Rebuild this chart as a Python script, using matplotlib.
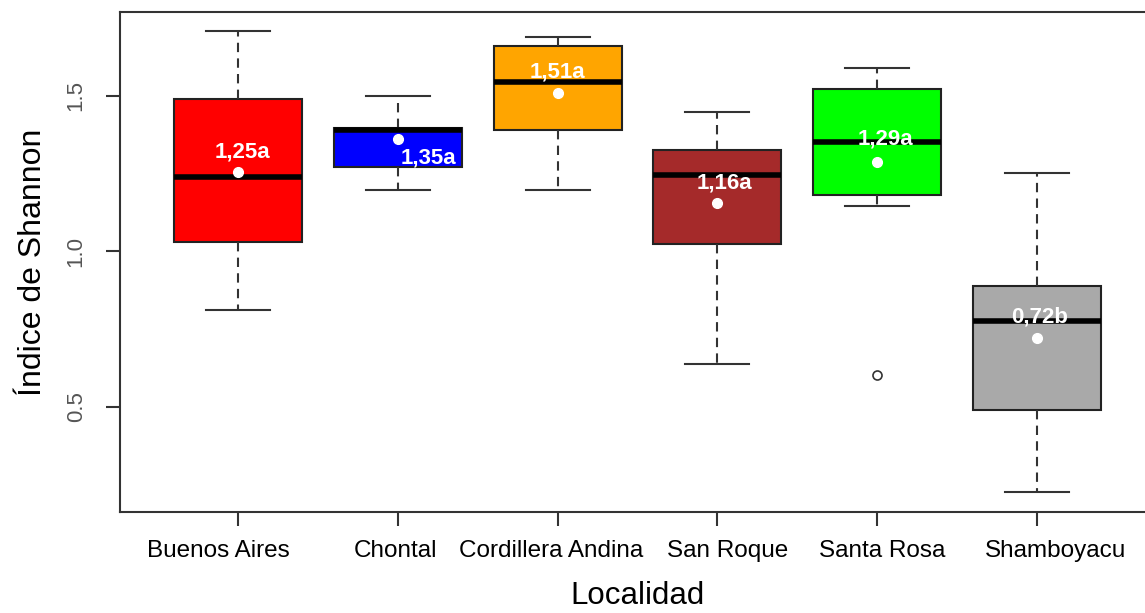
import numpy as np
import matplotlib.pyplot as plt
from matplotlib.transforms import ScaledTranslation

plt.rcParams['font.family'] = ['Liberation Sans', 'DejaVu Sans']

localidades = ["Buenos Aires", "Chontal", "Cordillera Andina", "San Roque", "Santa Rosa", "Shamboyacu"]
whislo = [0.812, 1.196, 1.196, 0.638, 1.147, 0.227]
q1 = [1.031, 1.270, 1.391, 1.025, 1.181, 0.491]
med = [1.239, 1.391, 1.545, 1.247, 1.353, 0.775]
q3 = [1.490, 1.397, 1.662, 1.325, 1.523, 0.889]
whishi = [1.709, 1.501, 1.690, 1.449, 1.591, 1.251]
outliers = [[], [], [], [], [0.603], []]
means = [1.257, 1.360, 1.509, 1.157, 1.286, 0.722]
mean_labels = ["1,25a", "1,35a", "1,51a", "1,16a", "1,29a", "0,72b"]

colors = ["#FF0000", "#0000FF", "#FFA500", "#A52A2A", "#00FF00", "#A9A9A9"]
label_offsets = [(3, 14), (22, -13), (0, 15), (5, 14), (6, 17), (2, 15)]
# tick labels in the original are not quite centred on the ticks (pixels)
tick_shift = [-20, -2, -7, 10, 5, 19]

stats = []
for i in range(len(localidades)):
    stats.append({"whislo": whislo[i], "q1": q1[i], "med": med[i], "q3": q3[i],
                  "whishi": whishi[i], "fliers": outliers[i], "label": localidades[i]})

fig = plt.figure(figsize=(11.45, 6.13), dpi=100)
ax = fig.add_axes([120/1145, 1 - 512/613, 1035/1145, 500/613])

pos = np.arange(1, len(localidades) + 1)
bp = ax.bxp(stats, positions=pos, widths=0.8, patch_artist=True, showfliers=True,
            boxprops=dict(edgecolor="#222222", linewidth=1.5),
            medianprops=dict(color="black", linewidth=4, solid_capstyle="butt"),
            whiskerprops=dict(color="#333333", linewidth=1.5, linestyle=(0, (4.5, 3))),
            capprops=dict(color="#333333", linewidth=1.5),
            capwidths=0.4,
            flierprops=dict(marker="o", markerfacecolor="white", markeredgecolor="#333333",
                            markersize=6.5, markeredgewidth=1.2))
for patch, c in zip(bp["boxes"], colors):
    patch.set_facecolor(c)

ax.plot(pos, means, "o", color="white", markersize=7, zorder=5)
for x, m, lab, off in zip(pos, means, mean_labels, label_offsets):
    ax.annotate(lab, (x, m), xytext=off, textcoords="offset points", ha="center", va="center",
                color="white", fontsize=16, fontweight="bold", zorder=6)

ax.set_xlim(0.26, 6.74)
ax.set_ylim(0.162, 1.770)
ax.set_yticks([0.5, 1.0, 1.5])
ax.set_yticklabels(["0.5", "1.0", "1.5"], rotation=90, va="center", color="#555555", fontsize=16)
ax.set_xticks(pos)
ax.set_xticklabels(localidades, fontsize=17.5)
ax.tick_params(axis="both", length=10, width=1.5, color="#333333")
ax.tick_params(axis="x", pad=10)
ax.tick_params(axis="y", pad=14)
for lbl, dx in zip(ax.get_xticklabels(), tick_shift):
    lbl.set_transform(lbl.get_transform() + ScaledTranslation(dx / 100, 0, fig.dpi_scale_trans))
for sp in ax.spines.values():
    sp.set_linewidth(1.5)
    sp.set_color("#333333")

ax.set_xlabel("Localidad", fontsize=22.5, labelpad=14)
ax.set_ylabel("Índice de Shannon", fontsize=23, labelpad=13)

fig.savefig("out.png", dpi=100)
